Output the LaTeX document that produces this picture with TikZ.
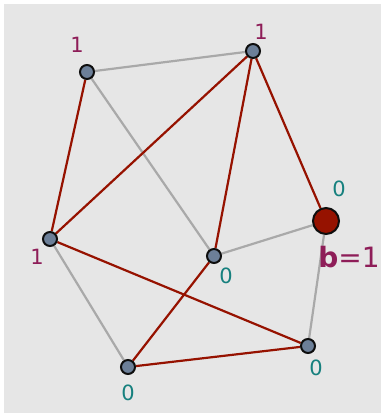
\documentclass[tikz,border=0pt]{standalone}
\usepackage{fontspec}
\setmainfont{DejaVu Sans}
\usetikzlibrary{positioning,backgrounds}
\definecolor{ink}{HTML}{0E0E0E}
\definecolor{slate}{HTML}{6C7F98}
\definecolor{paper}{HTML}{E6E6E6}
\definecolor{rust}{HTML}{961200}
\definecolor{ash}{HTML}{A9A9A9}
\definecolor{plum}{HTML}{8E1D58}
\definecolor{teal}{HTML}{16807E}
\tikzset{
  %% nodes
  vtx/.style    = {circle, draw=ink, line width=2pt, fill=slate,
                   inner sep=0pt, minimum size=14pt},
  root/.style   = {vtx, fill=rust, minimum size=26pt},
  %% edges
  tree/.style   = {draw=rust, line width=2.2pt},
  other/.style  = {draw=ash, line width=2.2pt},
  %% labels
  one/.style    = {text=plum, inner sep=0pt, font=\fontsize{21}{25}\selectfont},
  zero/.style   = {text=teal, inner sep=0pt, font=\fontsize{21}{25}\selectfont},
}

\begin{document}
\begin{tikzpicture}[x=1pt, y=-1pt]
\useasboundingbox (0,0) rectangle (382,414);

%% ---- vertices ----
\node[vtx]  (a) at (87,72)   {};
\node[vtx]  (b) at (253,51)  {};
\node[vtx]  (c) at (50,239)  {};
\node[vtx]  (d) at (214,256) {};
\node[root] (e) at (326,221) {};
\node[vtx]  (f) at (308,346) {};
\node[vtx]  (g) at (128,367) {};

%% ---- edges (under the vertices, over the paper) ----
\begin{scope}[on background layer]
\fill[white] (0,0) rectangle (382,414);
\fill[paper] (4,4) rectangle (381,413);
\draw[other] (a) -- (b);
\draw[other] (a) -- (d);
\draw[other] (d) -- (e);
\draw[other] (c) -- (g);
\draw[other] (e) -- (f);
\draw[tree] (a) -- (c);
\draw[tree] (b) -- (c);
\draw[tree] (b) -- (d);
\draw[tree] (b) -- (e);
\draw[tree] (c) -- (f);
\draw[tree] (d) -- (g);
\draw[tree] (g) -- (f);
\end{scope}

%% ---- labels ----
\node[one]  (la) at (77,45)   {1};
\node[one]  (lb) at (261,32)  {1};
\node[one]  (lc) at (37,257)  {1};
\node[zero] (ld) at (226,276) {0};
\node[zero] (le) at (339,189) {0};
\node[zero] (lf) at (316,368) {0};
\node[zero] (lg) at (128,393) {0};
\node[text=plum, inner sep=0pt, font=\fontsize{28}{33}\selectfont]
  (lbal) at (349,257) {\textbf{b}=1};
\end{tikzpicture}
\end{document}
